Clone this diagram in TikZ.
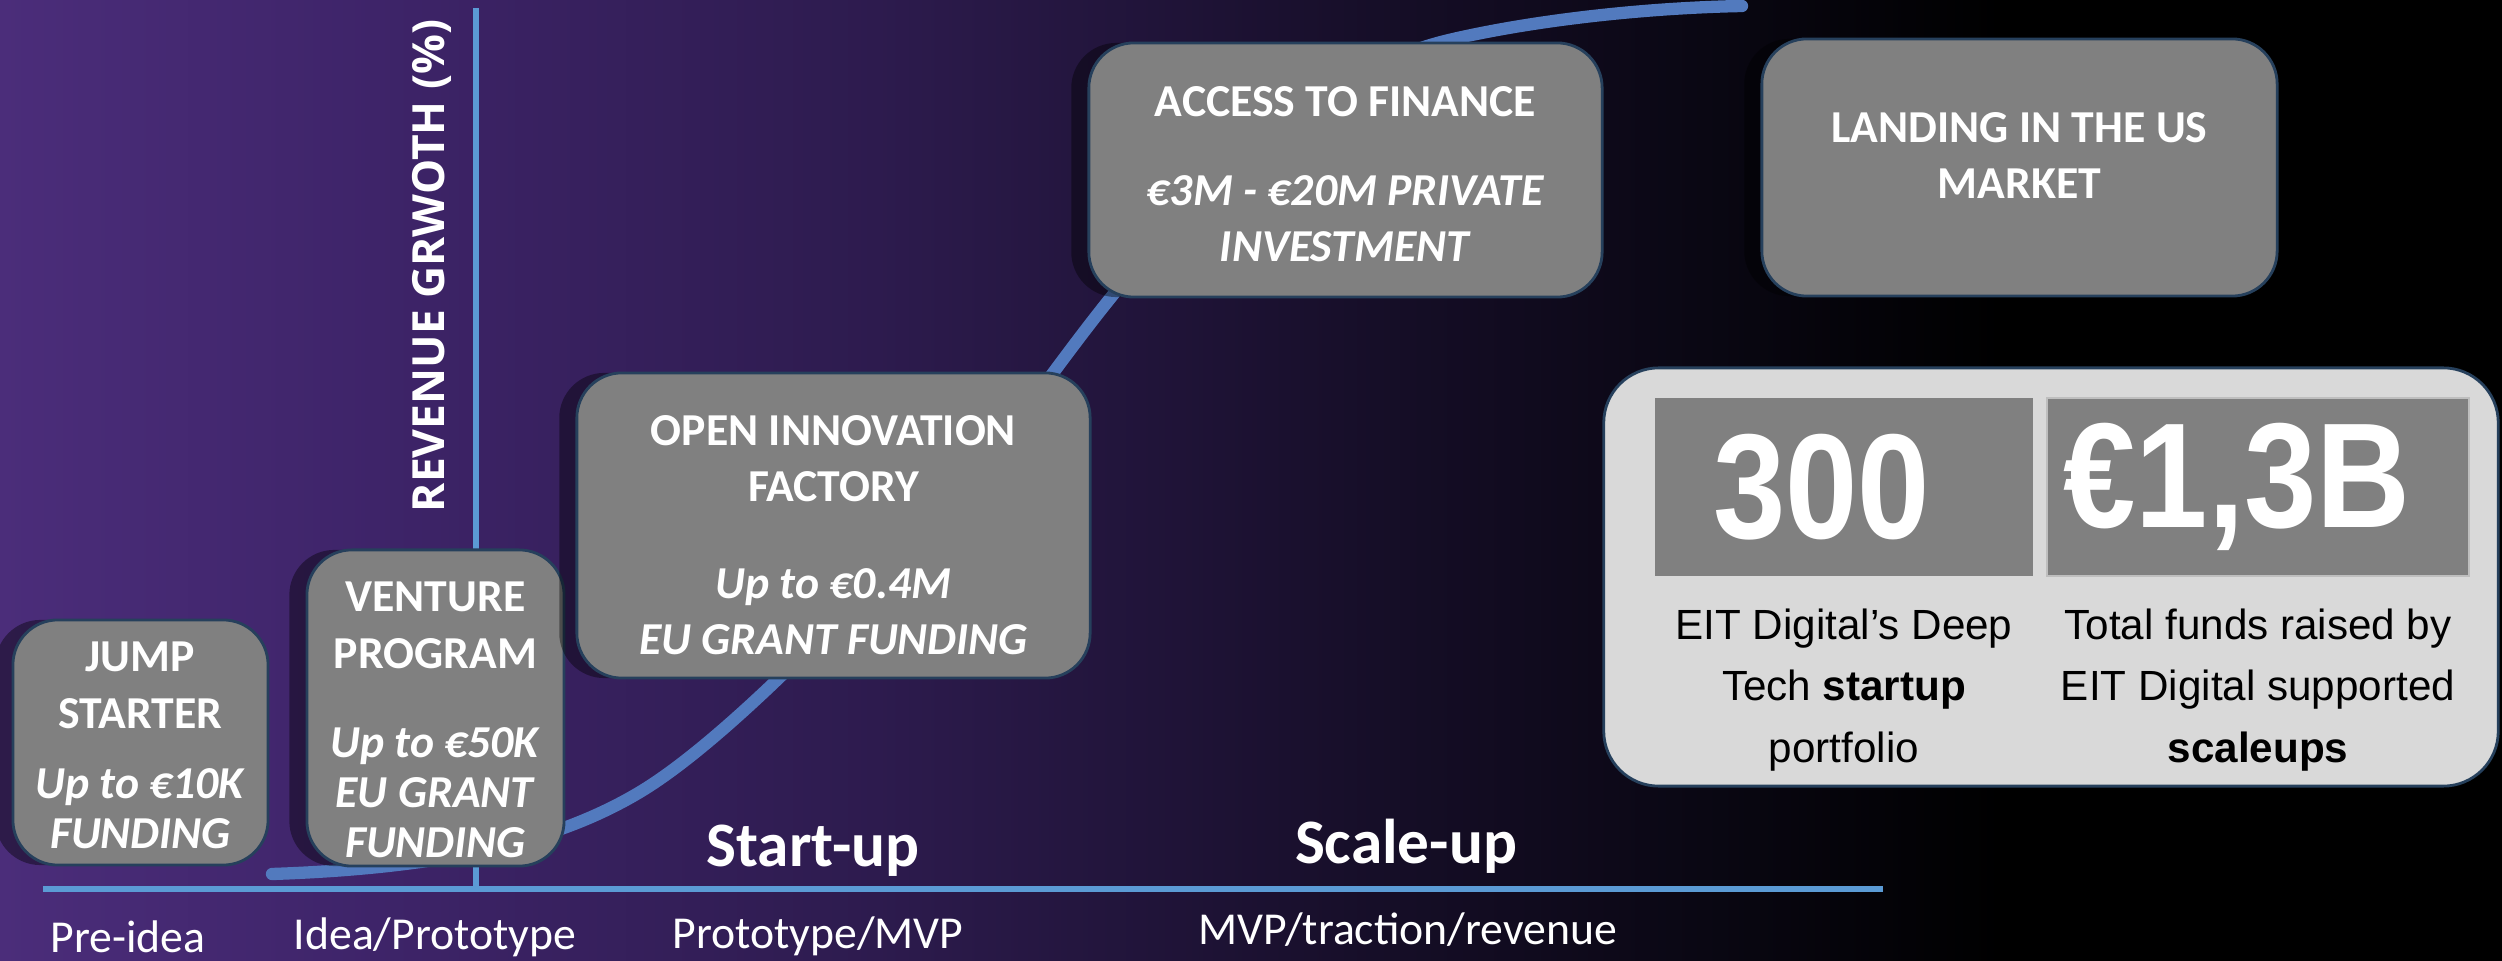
\documentclass[tikz,border=0pt]{standalone}
\usepackage{fontspec}
\setmainfont{Carlito}
\newfontfamily\arialfont{Liberation Sans}
\newfontfamily\figurefont[FakeStretch=0.87]{Liberation Sans}
\newfontfamily\axisfont{Open Sans}
\usetikzlibrary{shadows,positioning}

\definecolor{bgleft}{RGB}{75,45,122}
\definecolor{bgtwo}{RGB}{62,36,105}
\definecolor{bgthree}{RGB}{45,27,78}
\definecolor{bgfour}{RGB}{22,14,40}
\definecolor{bgfive}{RGB}{8,6,16}
\definecolor{curveblue}{RGB}{82,122,190}
\definecolor{axisblue}{RGB}{91,155,213}
\definecolor{boxgray}{RGB}{128,128,128}
\definecolor{boxline}{RGB}{38,64,92}
\definecolor{panelgray}{RGB}{217,217,217}

\pgfdeclarehorizontalshading{bgshade}{100bp}{color(0bp)=(bgleft); color(25bp)=(bgleft);
  color(32.5bp)=(bgtwo); color(42.5bp)=(bgthree); color(52.5bp)=(bgfour);
  color(60bp)=(bgfive); color(65bp)=(black); color(100bp)=(black)}

\begin{document}
\begin{tikzpicture}[x=0.01cm,y=-0.01cm,
    stagebox/.style={draw=boxline,line width=0.8pt,fill=boxgray,rounded corners=0.45cm,
      drop shadow={shadow xshift=-5pt,shadow yshift=0pt,opacity=0.4,fill=black}},
    stagetext/.style={text=white,align=center,inner sep=0pt,font=\bfseries\fontsize{13}{16}\selectfont},
    axisline/.style={axisblue,line width=1.9pt},
    stagelabel/.style={text=white,font=\fontsize{13}{16}\selectfont},
    phaselabel/.style={text=white,font=\bfseries\fontsize{18}{22}\selectfont},
    statbox/.style={fill=boxgray,text=white,inner sep=0pt,
      font=\figurefont\bfseries\fontsize{42.5}{45}\selectfont},
    statcap/.style={align=center,text=black,font=\arialfont\fontsize{12}{17.4}\selectfont}]
  \useasboundingbox (0,0) rectangle (2502,961);
  \shade[shading=bgshade] (0,0) rectangle (2502,961);

  % axes
  \coordinate (origin) at (476,889);
  \coordinate (ytop) at (476,8);
  \coordinate (xleft) at (43,889);
  \coordinate (xright) at (1883,889);
  \draw[axisline] (xleft) -- (xright);
  \draw[axisline] (origin) -- (ytop);
  \node[rotate=90,text=white,font=\axisfont\bfseries\fontsize{12.6}{15}\selectfont] (ylabel) at (432,266) {REVENUE GRWOTH (\%)};

  % growth curve
  \draw[curveblue,line width=3.5pt,line cap=round] (272,874)
    .. controls (450,868) and (560,840) .. (640,792)
    .. controls (760,720) and (980,470) .. (1050,377)
    .. controls (1105,304) and (1260,85) .. (1449,40)
    .. controls (1530,21) and (1640,8) .. (1742,6);

  % stages
  \node[stagebox,minimum width=2.55cm,minimum height=2.45cm] (jump) at (140.5,742.5) {};
  \node[stagetext,below=0.23cm of jump.north] (jumptext)
    {JUMP\\STARTER\\[4pt]\textit{Up to €10K}\\[-1.7pt]\textit{FUNDING}};
  \node[stagebox,minimum width=2.57cm,minimum height=3.16cm] (venture) at (435.5,708) {};
  \node[stagetext,below=0.33cm of venture.north] (venturetext)
    {VENTURE\\PROGRAM\\[9.5pt]\textit{Up to €50K}\\[-2pt]\textit{EU GRANT}\\[-1.7pt]\textit{FUNDING}};
  \node[stagebox,minimum width=5.13cm,minimum height=3.05cm] (innovation) at (833.5,525.5) {};
  \node[stagetext,below=0.43cm of innovation.north] (innovationtext)
    {OPEN INNOVATION\\FACTORY\\[11.5pt]\textit{Up to €0.4M}\\\textit{EU GRANT FUNDING}};
  \node[stagebox,minimum width=5.13cm,minimum height=2.54cm] (finance) at (1345.5,170) {};
  \node[stagetext,below=0.44cm of finance.north] (financetext)
    {ACCESS TO FINANCE\\[9.3pt]\textit{€3M - €20M PRIVATE}\\\textit{INVESTMENT}};
  \node[stagebox,minimum width=5.15cm,minimum height=2.57cm] (landing) at (2019.5,167.5) {};
  \node[stagetext,below=0.74cm of landing.north] (landingtext)
    {LANDING IN THE US\\MARKET};

  % figures panel
  \node[draw=boxline,line width=0.8pt,fill=panelgray,rounded corners=0.55cm,
    minimum width=8.94cm,minimum height=4.18cm] (panel) at (2051,577) {};
  \node[statbox,minimum width=3.78cm,minimum height=1.78cm] (startups) at (1844,487) {300\kern0.45cm};
  \node[statbox,draw=panelgray!70!gray,minimum width=4.22cm,minimum height=1.78cm] (funds) at (2258,487) {€1,3B\kern0.42cm};
  \node[statcap] (startupscap) at (1844,690) {EIT Digital’s Deep\\Tech \textbf{startup}\\portfolio};
  \node[statcap] (fundscap) at (2258,690) {Total funds raised by\\EIT Digital supported\\\textbf{scaleups}};

  % phases
  \node[phaselabel] (startup) at (813,851) {Start-up};
  \node[phaselabel] (scaleup) at (1406,846) {Scale-up};
  \node[stagelabel] (preidea) at (128,937) {Pre-idea};
  \node[stagelabel] (idea) at (435,937) {Idea/Prototype};
  \node[stagelabel] (prototype) at (818,936) {Prototype/MVP};
  \node[stagelabel] (mvp) at (1408,930) {MVP/traction/revenue};
\end{tikzpicture}
\end{document}
